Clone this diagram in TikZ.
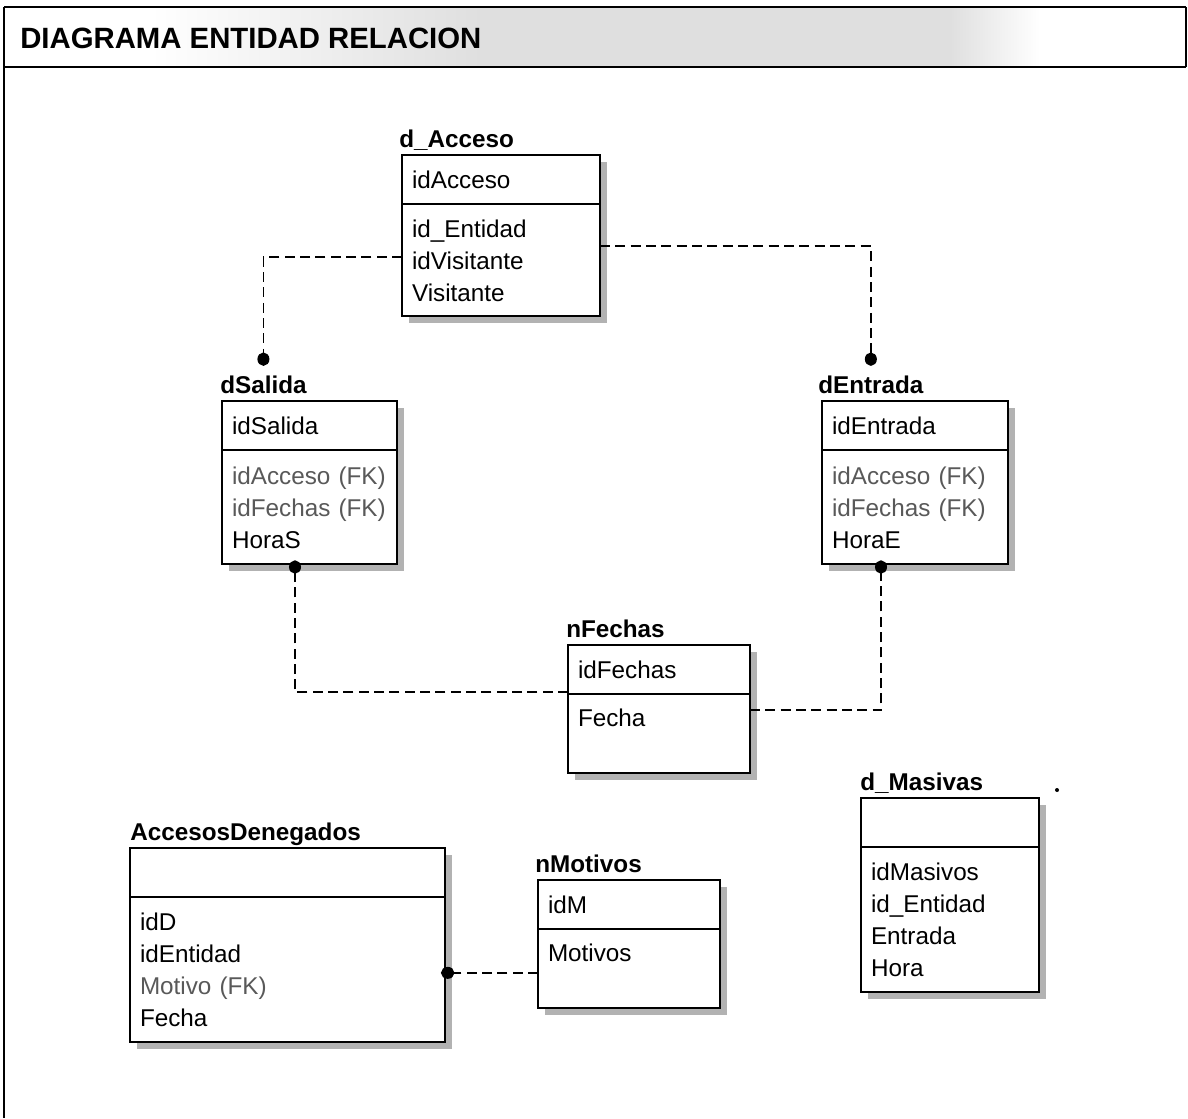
\documentclass[tikz,border=0pt]{standalone}
\usepackage{fontspec}
\setmainfont{Liberation Sans}
\usetikzlibrary{arrows.meta,positioning,calc,backgrounds}
\newcommand\fkrow[1]{\textcolor{black!65}{#1}}

\begin{document}
\begin{tikzpicture}[
  x=0.75pt,y=-0.75pt,
  font=\fontsize{18.2}{24}\selectfont,
  tbl/.style={draw,line width=1.3pt,fill=white,anchor=north west,align=left,
    inner xsep=7.5pt,inner ysep=0pt,outer sep=0pt,text width=#1},
  key/.style={tbl=#1,minimum height=37pt},
  att/.style 2 args={tbl=#1,minimum height=#2},
  shd/.style={fill=gray!60},
  ttl/.style={font=\fontsize{18.2}{20}\selectfont\bfseries,anchor=base west,inner sep=0pt},
  htitle/.style={font=\fontsize{22}{26}\selectfont\bfseries,anchor=base west,inner sep=0pt},
  rel/.style={line width=1.3pt,dash pattern=on 7.5pt off 4pt},
  dot/.style={-{Circle[length=10pt,width=9pt]}}
]
\useasboundingbox (0,0) rectangle (1188,1118);

% ---- header band ----
\shade[left color=white,right color=gray!25] (150,8) rectangle (480,66);
\fill[gray!25] (480,8) rectangle (950,66);
\shade[left color=gray!25,right color=white] (950,8) rectangle (1040,66);
\draw[line width=1.5pt] (4,7) -- (1186,7);
\draw[line width=2.2pt] (4,67) -- (1186,67);
\draw[line width=1.2pt] (4,7) -- (4,1118);
\draw[line width=1.2pt] (1186,7) -- (1186,67);
\node[htitle] (head) at (20,48) {DIAGRAMA ENTIDAD RELACION};

% ---- d_Acceso ----
\node[key=133.5pt] (acc) at (402,155) {idAcceso};
\node[att={133.5pt}{84pt}] (accA) at (acc.south west) {id\_Entidad\\idVisitante\\Visitante};
\node[ttl] (tAcc) at ($(acc.north west)+(-3,-8)$) {d\_Acceso};

% ---- dSalida ----
\node[key=116.25pt] (sal) at (222,401) {idSalida};
\node[att={116.25pt}{85.5pt}] (salA) at (sal.south west)
  {\fkrow{idAcceso (FK)}\\\fkrow{idFechas (FK)}\\HoraS};
\node[ttl] (tSal) at ($(sal.north west)+(-2,-8)$) {dSalida};

% ---- dEntrada ----
\node[key=124.5pt] (ent) at (822,401) {idEntrada};
\node[att={124.5pt}{85.5pt}] (entA) at (ent.south west)
  {\fkrow{idAcceso (FK)}\\\fkrow{idFechas (FK)}\\HoraE};
\node[ttl] (tEnt) at ($(ent.north west)+(-4,-8)$) {dEntrada};

% ---- nFechas ----
\node[key=121.5pt] (fec) at (568,645) {idFechas};
\node[att={121.5pt}{59.25pt}] (fecA) at (fec.south west) {Fecha\\\mbox{}};
\node[ttl] (tFec) at ($(fec.north west)+(-2,-8)$) {nFechas};

% ---- d_Masivas ----
\node[key=118.5pt] (mas) at (861,798) {};
\node[att={118.5pt}{108.75pt}] (masA) at (mas.south west)
  {idMasivos\\id\_Entidad\\Entrada\\Hora};
\node[ttl] (tMas) at ($(mas.north west)+(-1,-8)$) {d\_Masivas};
\fill (1057,790) circle (1.5pt);

% ---- AccesosDenegados ----
\node[key=221.25pt] (den) at (130,848) {};
\node[att={221.25pt}{108.75pt}] (denA) at (den.south west)
  {idD\\idEntidad\\\fkrow{Motivo (FK)}\\Fecha};
\node[ttl] (tDen) at ($(den.north west)+(0,-8)$) {AccesosDenegados};

% ---- nMotivos ----
\node[key=121.5pt] (mot) at (538,880) {idM};
\node[att={121.5pt}{59.25pt}] (motA) at (mot.south west) {Motivos\\\mbox{}};
\node[ttl] (tMot) at ($(mot.north west)+(-3,-8)$) {nMotivos};

% shadows behind the tables
\begin{scope}[on background layer]
\foreach \k/\a in {acc/accA,sal/salA,ent/entA,fec/fecA,mas/masA,den/denA,mot/motA}
  \fill[shd] ($(\k.north west)+(7,7)$) rectangle ($(\a.south east)+(7,7)$);
\end{scope}

% relations
\draw[rel,dot,shorten >=7pt] ($(accA.west)+(0,-3)$) -| (tSal.north);
\draw[rel,dot,shorten >=7pt] ($(accA.east)+(0,-14)$) -| (tEnt.north);
\draw[rel,dot,shorten >=-3pt] ($(fec.south west)+(0,-2)$) -| ($(salA.south west)+(73,0)$);
\draw[rel,dot,shorten >=-3pt] ($(fecA.north east)+(0,16)$) -| ($(entA.south west)+(59,0)$);
\draw[rel,dot,shorten >=-3pt] ($(motA.west |- denA.east)+(0,3)$) -- ($(denA.east)+(0,3)$);
\end{tikzpicture}
\end{document}
